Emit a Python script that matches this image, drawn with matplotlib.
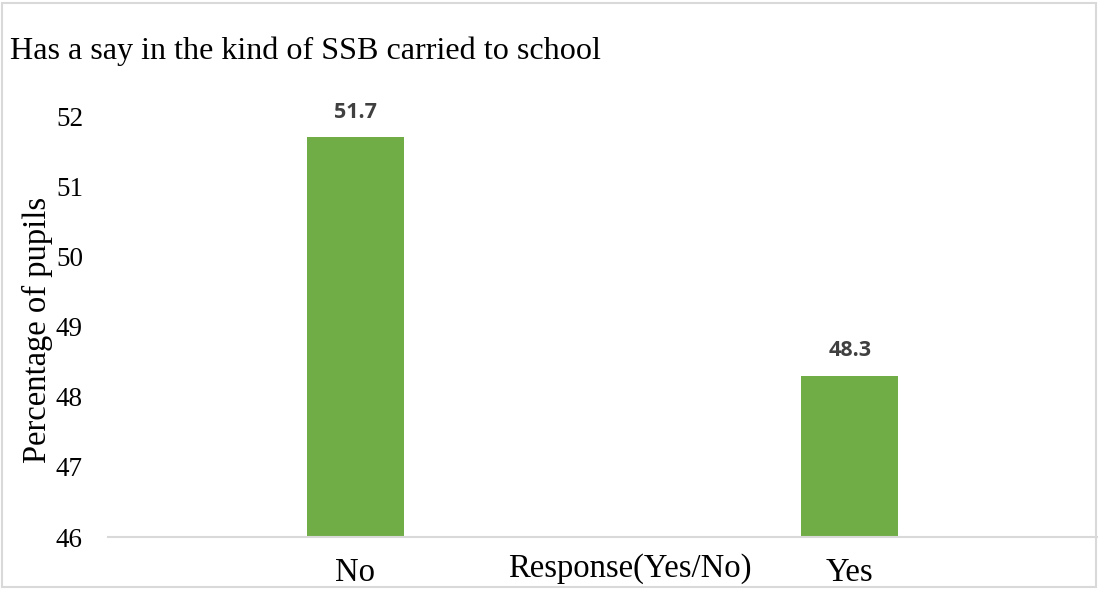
import matplotlib.pyplot as plt
from matplotlib.patches import Rectangle

# ---- Data ----
responses = ["No", "Yes"]
percentages = [51.7, 48.3]
y_ticks = [46, 47, 48, 49, 50, 51, 52]

bar_color = "#70AD47"
grey_line = "#D9D9D9"
serif = ["Liberation Serif", "DejaVu Serif"]

W, H = 1098, 590
fig = plt.figure(figsize=(W / 100, H / 100), dpi=100)
ax = fig.add_axes([108 / W, 1 - 537 / H, 989 / W, 421 / H])

x = range(len(responses))
ax.bar(x, percentages, width=0.196, color=bar_color)
ax.set_xlim(-0.5, 1.5)
ax.set_ylim(46, 52)
ax.set_yticks(y_ticks)
ax.set_xticks(list(x))
ax.set_xticklabels(responses, family=serif, fontsize=23.5)
ax.set_yticklabels([str(t) for t in y_ticks], family=serif, fontsize=19.5)
ax.tick_params(axis="y", length=0, pad=18)
ax.tick_params(axis="x", length=0, pad=15)

for side in ["top", "right", "left"]:
    ax.spines[side].set_visible(False)
ax.spines["bottom"].set_color(grey_line)
ax.spines["bottom"].set_linewidth(1.5)

# value labels above the bars
for xi, val in zip(x, percentages):
    ax.annotate(f"{val:.1f}", xy=(xi, val), xytext=(0, 14), textcoords="offset points",
                ha="center", va="baseline", fontsize=15.5, fontweight="bold",
                color="#404040", family=["Open Sans", "DejaVu Sans"])

fig.text(37 / W, 1 - 330 / H, "Percentage of pupils", family=serif, fontsize=23.5,
         rotation=90, ha="center", va="center")
fig.text(630 / W, 1 - 577 / H, "Response(Yes/No)", family=serif, fontsize=23.5,
         ha="center", va="baseline")
fig.text(10 / W, 1 - 51 / H, "Has a say in the kind of SSB carried to school",
         family=serif, fontsize=23.1, ha="left", va="center")

# chart area border
fig.patches.append(Rectangle((2 / W, 3 / H), 1094 / W, 584 / H,
                             transform=fig.transFigure, fill=False,
                             edgecolor=grey_line, linewidth=1.5))

fig.savefig("out.png", dpi=100)
